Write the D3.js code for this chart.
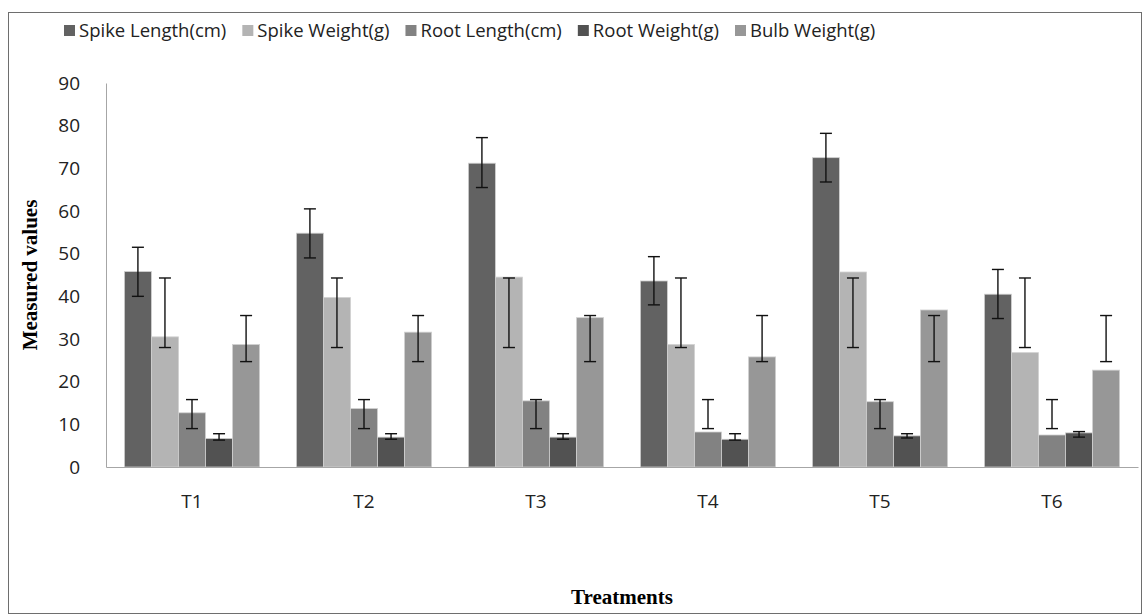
<!DOCTYPE html>
<html>
<head>
<meta charset="utf-8">
<script src="https://cdn.jsdelivr.net/npm/d3@7"></script>
<style>
  body { margin: 0; background: #fff; }
  svg { display: block; }
</style>
</head>
<body>
<svg id="chart" width="1146" height="615"></svg>
<script>
const treatments = ['T1', 'T2', 'T3', 'T4', 'T5', 'T6'];
const seriesNames = ['Spike Length(cm)', 'Spike Weight(g)', 'Root Length(cm)', 'Root Weight(g)', 'Bulb Weight(g)'];
const seriesColors = ['#626262', '#b4b4b4', '#828282', '#525252', '#979797'];

const spikeLength = [45.8, 54.8, 71.2, 43.6, 72.5, 40.5];
const spikeWeight = [30.5, 39.7, 44.5, 28.7, 45.7, 26.8];
const rootLength  = [12.7, 13.7, 15.5, 8.2, 15.3, 7.5];
const rootWeight  = [6.7, 7.0, 7.0, 6.5, 7.3, 8.0];
const bulbWeight  = [28.7, 31.6, 35.0, 25.8, 36.8, 22.7];

// error bar ends (low, high) as drawn
const spikeLengthErr = [[40, 51.5], [49, 60.5], [65.5, 77.2], [38, 49.3], [66.8, 78.2], [34.8, 46.3]];
const spikeWeightErr = [[28, 44.3], [28, 44.3], [28, 44.3], [28, 44.3], [28, 44.3], [28, 44.3]];
const rootLengthErr  = [[9, 15.8], [9, 15.8], [9, 15.8], [9, 15.8], [9, 15.8], [9, 15.8]];
const rootWeightErr  = [[6.3, 7.8], [6.5, 7.8], [6.5, 7.8], [6.3, 7.8], [6.8, 7.8], [7.0, 8.3]];
const bulbWeightErr  = [[24.7, 35.5], [24.7, 35.5], [24.7, 35.5], [24.7, 35.5], [24.7, 35.5], [24.7, 35.5]];

const yTicks = [0, 10, 20, 30, 40, 50, 60, 70, 80, 90];

const values = [spikeLength, spikeWeight, rootLength, rootWeight, bulbWeight];
const errors = [spikeLengthErr, spikeWeightErr, rootLengthErr, rootWeightErr, bulbWeightErr];

const svg = d3.select('#chart');
const plotLeft = 106, plotRight = 1138, plotTop = 83, plotBottom = 467;
const sans = "'Open Sans', 'Noto Sans', sans-serif";
const serif = "'Liberation Serif', 'DejaVu Serif', serif";

// outer frame
svg.append('rect')
  .attr('x', 8.5).attr('y', 12.5).attr('width', 1133).attr('height', 601)
  .attr('fill', 'none').attr('stroke', '#6e6e6e').attr('stroke-width', 1);

const x0 = d3.scaleBand().domain(treatments).range([plotLeft, plotRight]);
const x1 = d3.scaleBand().domain(d3.range(seriesNames.length))
  .range([0, x0.bandwidth()]).paddingInner(0).paddingOuter(0.68);
const y = d3.scaleLinear().domain([0, 90]).range([plotBottom, plotTop]);

// bars
const rows = [];
values.forEach((vals, s) => vals.forEach((v, i) => rows.push({ s, t: treatments[i], v, err: errors[s][i] })));

svg.append('g')
  .selectAll('rect')
  .data(rows)
  .join('rect')
  .attr('x', d => x0(d.t) + x1(d.s))
  .attr('y', d => y(d.v))
  .attr('width', x1.bandwidth())
  .attr('height', d => y(0) - y(d.v))
  .attr('fill', d => seriesColors[d.s])
  .attr('stroke', '#d0d0d0')
  .attr('stroke-width', 0.8);

// error bars
const eg = svg.append('g').attr('stroke', '#111').attr('stroke-width', 1.4);
rows.forEach(d => {
  const cx = x0(d.t) + x1(d.s) + x1.bandwidth() / 2;
  eg.append('line').attr('x1', cx).attr('x2', cx).attr('y1', y(d.err[0])).attr('y2', y(d.err[1]));
  d.err.forEach(e => {
    eg.append('line').attr('x1', cx - 6).attr('x2', cx + 6).attr('y1', y(e)).attr('y2', y(e));
  });
});

// axes
const yAxis = svg.append('g')
  .attr('transform', `translate(${plotLeft},0)`)
  .call(d3.axisLeft(y).tickValues(yTicks).tickSize(0).tickPadding(26));
yAxis.select('.domain').attr('stroke', '#a6a6a6');
yAxis.selectAll('text').attr('font-family', sans).attr('font-size', 19).attr('fill', '#222');

const xAxis = svg.append('g')
  .attr('transform', `translate(0,${plotBottom})`)
  .call(d3.axisBottom(x0).tickSize(0).tickPadding(28));
xAxis.select('.domain').attr('stroke', '#a6a6a6');
xAxis.selectAll('text').attr('font-family', sans).attr('font-size', 19).attr('fill', '#222');

// axis titles
svg.append('text')
  .attr('transform', 'translate(37,275) rotate(-90)')
  .attr('text-anchor', 'middle')
  .attr('font-family', serif).attr('font-weight', 'bold').attr('font-size', 21)
  .text('Measured values');

svg.append('text')
  .attr('x', 622).attr('y', 604)
  .attr('text-anchor', 'middle')
  .attr('font-family', serif).attr('font-weight', 'bold').attr('font-size', 21)
  .text('Treatments');

// legend
const legend = svg.append('g');
let lx = 64;
seriesNames.forEach((name, i) => {
  legend.append('rect')
    .attr('x', lx).attr('y', 25).attr('width', 11).attr('height', 11)
    .attr('fill', seriesColors[i]);
  const t = legend.append('text')
    .attr('x', lx + 15).attr('y', 37)
    .attr('font-family', sans).attr('font-size', 18.5).attr('fill', '#222')
    .text(name);
  lx += 15 + t.node().getComputedTextLength() + 16;
});
</script>
</body>
</html>
